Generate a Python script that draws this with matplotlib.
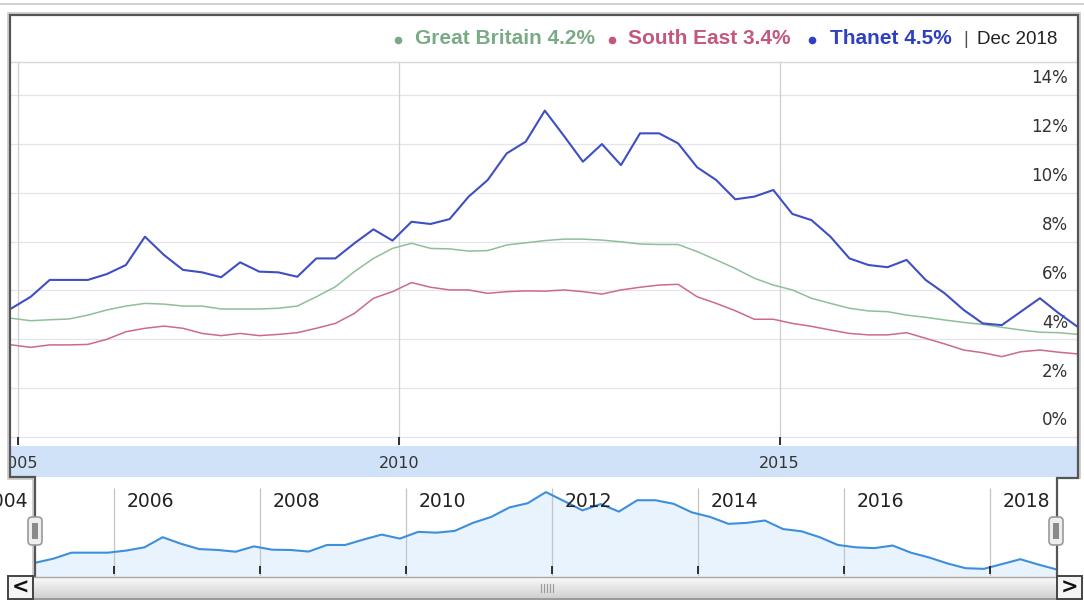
import numpy as np
import pandas as pd
import matplotlib.pyplot as plt
from matplotlib.patches import Rectangle, FancyBboxPatch

# quarterly claimant rate (%), Dec 2004 - Dec 2018
dates = pd.date_range("2004-12-01", "2018-12-01", freq="3MS")

thanet = [5.27,
          5.74, 6.43, 6.43, 6.43,
          6.67, 7.04, 8.20, 7.45,
          6.84, 6.74, 6.54, 7.15,
          6.77, 6.74, 6.56, 7.31,
          7.31, 7.93, 8.50, 8.04,
          8.81, 8.72, 8.92, 9.84,
          10.52, 11.61, 12.09, 13.36,
          12.33, 11.27, 11.99, 11.13,
          12.43, 12.43, 12.02, 11.04,
          10.52, 9.73, 9.84, 10.11,
          9.13, 8.88, 8.20, 7.31,
          7.04, 6.95, 7.25, 6.43,
          5.88, 5.20, 4.65, 4.58,
          5.13, 5.68, 5.06, 4.50]

great_britain = [4.86,
                 4.76, 4.80, 4.83, 4.99,
                 5.20, 5.36, 5.47, 5.44,
                 5.36, 5.36, 5.24, 5.24,
                 5.24, 5.27, 5.36, 5.74,
                 6.15, 6.77, 7.31, 7.72,
                 7.93, 7.72, 7.70, 7.61,
                 7.63, 7.86, 7.95, 8.04,
                 8.10, 8.10, 8.06, 7.99,
                 7.90, 7.88, 7.88, 7.59,
                 7.25, 6.90, 6.50, 6.22,
                 6.02, 5.68, 5.47, 5.27,
                 5.16, 5.13, 4.99, 4.90,
                 4.79, 4.69, 4.61, 4.49,
                 4.38, 4.29, 4.27, 4.20]

south_east = [3.77,
              3.67, 3.77, 3.77, 3.79,
              4.00, 4.31, 4.45, 4.54,
              4.45, 4.24, 4.15, 4.24,
              4.15, 4.20, 4.27, 4.45,
              4.65, 5.06, 5.68, 5.95,
              6.32, 6.13, 6.02, 6.02,
              5.88, 5.95, 5.98, 5.97,
              6.02, 5.95, 5.85, 6.02,
              6.13, 6.22, 6.25, 5.74,
              5.47, 5.17, 4.82, 4.82,
              4.65, 4.53, 4.38, 4.24,
              4.18, 4.18, 4.27, 4.04,
              3.81, 3.56, 3.45, 3.29,
              3.49, 3.56, 3.47, 3.40]

series_names = ["Great Britain", "South East", "Thanet"]
line_colors = ["#8fbf9a", "#cc6a8c", "#3e4fc2"]
text_colors = ["#7aab86", "#c2587f", "#2f40c0"]
y_ticks = [0, 2, 4, 6, 8, 10, 12, 14]
main_years = [2005, 2010, 2015]
nav_years = [2004, 2006, 2008, 2010, 2012, 2014, 2016, 2018]

x = dates.year + (dates.month - 1) / 12.0
last_label = dates[-1].strftime("%b %Y")

W, H = 1084, 606
fig = plt.figure(figsize=(W / 100, H / 100), dpi=100)
fig.patch.set_facecolor("white")


def px_axes(x0, y0, x1, y1, **kw):
    # axes placed by pixel box, y measured from the top
    return fig.add_axes([x0 / W, 1 - y1 / H, (x1 - x0) / W, (y1 - y0) / H], **kw)


def clean(a):
    a.set_xticks([])
    a.set_yticks([])
    for s in a.spines.values():
        s.set_visible(False)


# ---- main chart ----
ax = px_axes(11, 62, 1078, 445)
clean(ax)
ax.set_xlim(2004.908, 2018.917)
ax.set_ylim(-0.327, 15.35)
for v in y_ticks:
    ax.axhline(v, color="#e4e4ec", lw=0.9, zorder=1)
    ax.text(0.9906, v + 0.68, f"{v}%", transform=ax.get_yaxis_transform(),
            ha="right", va="center", fontsize=12, color="#333333",
            family="DejaVu Sans")
for yr in main_years:
    ax.axvline(yr, color="#cfcfcf", lw=0.9, zorder=1)
ax.vlines(main_years, -0.327, 0, color="#222222", lw=1.3, zorder=3)
ax.plot(x, south_east, color=line_colors[1], lw=1.1, zorder=4)
ax.plot(x, great_britain, color=line_colors[0], lw=1.1, zorder=4)
ax.plot(x, thanet, color=line_colors[2], lw=1.5, zorder=5)

# ---- year band ----
band = px_axes(11, 446, 1078, 477)
clean(band)
band.set_facecolor("#d0e2f7")
band.set_xlim(ax.get_xlim())
band.set_ylim(0, 1)
for yr in main_years:
    band.text(yr, 0.45, str(yr), ha="center", va="center", fontsize=11.5,
              color="#333333", clip_on=True, family="DejaVu Sans")

# ---- navigator ----
nav = px_axes(0, 477, W, 576)
clean(nav)
nav.set_xlim(2004.438, 2019.288)
nav.set_ylim(3.76, 15.09)
nav.fill_between(x, thanet, 3.76, color="#e8f3fd", zorder=1)
nav.plot(x, thanet, color="#3d8fdc", lw=1.5, zorder=3)
nav.vlines(nav_years, 3.76, 13.82, color="#c4c4c4", lw=0.9, zorder=2)
nav.vlines(nav_years, 3.95, 4.95, color="#222222", lw=1.3, zorder=4)
for yr in nav_years:
    nav.text(yr + 0.178, 0.755, str(yr), transform=nav.get_xaxis_transform(),
             ha="left", va="center", fontsize=13.5, color="#222222",
             family="DejaVu Sans", clip_on=True)

# ---- overlay: header, borders, scrollbar ----
ov = fig.add_axes([0, 0, 1, 1], facecolor="none")
ov.set_xlim(0, W)
ov.set_ylim(H, 0)
ov.axis("off")

ov.plot([0, W], [4, 4], color="#d2d2d2", lw=1.5)
ov.plot([11, 1078], [62, 62], color="#d8d8d8", lw=1)

# legend header
dot_x = [398, 612, 812]
text_x = [415, 628, 830]
latest = [great_britain[-1], south_east[-1], thanet[-1]]
for name, val, dx, tx, tc in zip(series_names, latest, dot_x, text_x, text_colors):
    ov.plot(dx, 40, "o", color=tc, ms=5.5, mec="none")
    ov.text(tx, 39, f"{name} {val:.1f}%", ha="left", va="center",
            fontsize=15, fontweight="bold", color=tc, family="Liberation Sans")
ov.text(963, 39, "|", ha="left", va="center", fontsize=13, color="#555555",
        family="Liberation Sans")
ov.text(977, 39, last_label, ha="left", va="center", fontsize=13.5,
        color="#222222", family="Liberation Sans")

# outer frame with its step around the navigator
fx = [35, 35, 10, 10, 1078, 1078, 1057, 1057]
fy = [577, 477, 477, 15, 15, 478, 478, 577]
ov.plot([33, 33, 8, 8, 1080, 1080], [577, 479, 479, 13, 13, 478],
        color="#c8c8c8", lw=1.2)
ov.plot(fx, fy, color="#555555", lw=1.6, solid_joinstyle="miter")

# range handles
for hx in [35, 1056]:
    ov.add_patch(FancyBboxPatch((hx - 5, 519), 10, 24,
                                boxstyle="round,pad=2,rounding_size=4",
                                fc="#eeeeee", ec="#9a9a9a", lw=1.2, zorder=5))
    ov.add_patch(Rectangle((hx - 3, 523), 6, 16, fc="#8a8a8a", ec="none", zorder=6))

# scrollbar, light grey gradient
top_c = np.array([0.98, 0.98, 0.98])
bot_c = np.array([0.82, 0.82, 0.82])
t = np.linspace(0, 1, 40).reshape(-1, 1, 1)
grad = top_c * (1 - t) + bot_c * t
ov.imshow(grad, extent=(33, 1057, 598, 577), aspect="auto", origin="upper",
          zorder=2)
ov.plot([8, 1082], [577, 577], color="#a8a8a8", lw=1)
ov.plot([8, 1082], [599, 599], color="#888888", lw=1.2)
for i in range(5):
    ov.plot([541 + i * 3, 541 + i * 3], [584, 592], color="#9a9a9a", lw=0.8)
for bx0, bx1, sym in [(8, 33, "<"), (1057, 1082, ">")]:
    ov.add_patch(Rectangle((bx0, 576), bx1 - bx0, 23, fc="#f4f4f4",
                           ec="#444444", lw=1.4, zorder=4))
    ov.text((bx0 + bx1) / 2, 588, sym, ha="center", va="center", fontsize=15,
            fontweight="bold", color="#111111", zorder=5, family="DejaVu Sans")

fig.savefig("out.png", dpi=100)
